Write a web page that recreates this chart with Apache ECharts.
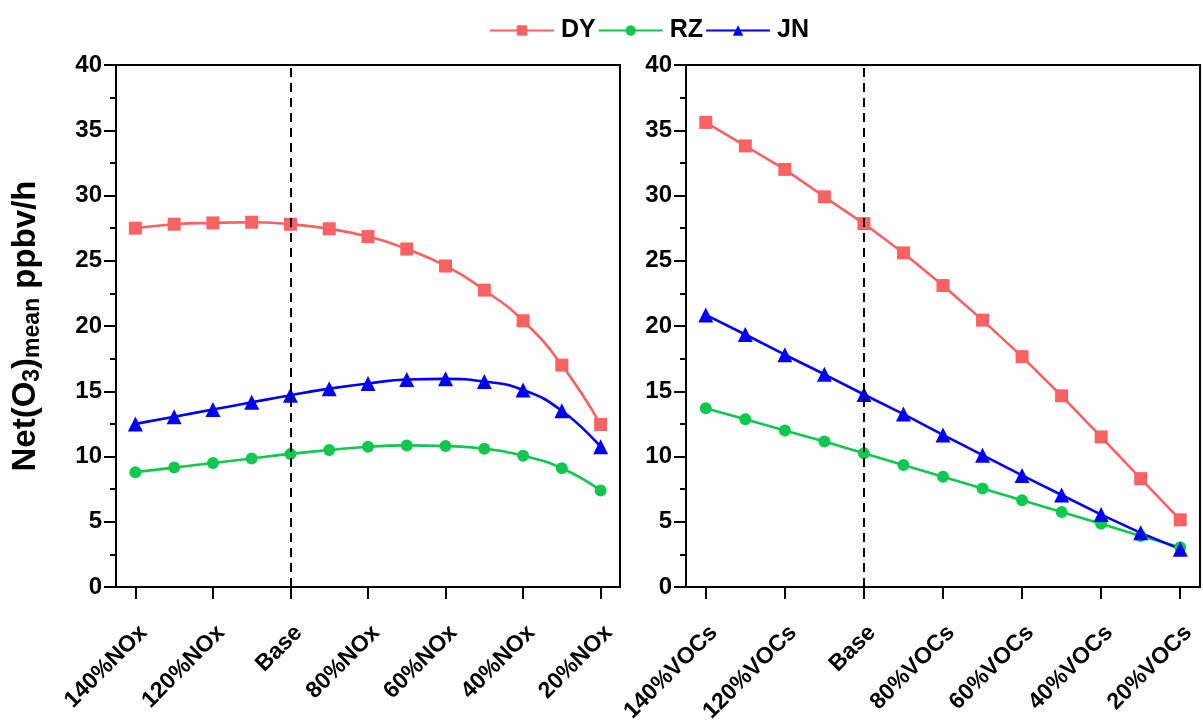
<!DOCTYPE html>
<html>
<head>
<meta charset="utf-8">
<script src="https://cdn.jsdelivr.net/npm/echarts@6/dist/echarts.min.js"></script>
<style>
    html, body { margin: 0; padding: 0; background: #fff; }
    #main { width: 1203px; height: 722px; }
</style>
</head>
<body>
<div id="main"></div>
<script>
    // categories
    var noxCategories = ['140%NOx', '130%NOx', '120%NOx', '110%NOx', 'Base', '90%NOx', '80%NOx',
        '70%NOx', '60%NOx', '50%NOx', '40%NOx', '30%NOx', '20%NOx'];
    var vocCategories = ['140%VOCs', '130%VOCs', '120%VOCs', '110%VOCs', 'Base', '90%VOCs', '80%VOCs',
        '70%VOCs', '60%VOCs', '50%VOCs', '40%VOCs', '30%VOCs', '20%VOCs'];

    // NOx scenarios (left panel)
    var noxDY = [27.5, 27.8, 27.9, 27.95, 27.8, 27.45, 26.85, 25.9, 24.6, 22.75, 20.4, 17.0, 12.45];
    var noxRZ = [8.8, 9.15, 9.5, 9.85, 10.2, 10.5, 10.75, 10.85, 10.8, 10.6, 10.05, 9.1, 7.4];
    var noxJN = [12.5, 13.05, 13.6, 14.15, 14.7, 15.2, 15.6, 15.9, 15.95, 15.75, 15.1, 13.5, 10.75];

    // VOCs scenarios (right panel)
    var vocDY = [35.6, 33.8, 32.0, 29.9, 27.85, 25.6, 23.1, 20.45, 17.65, 14.65, 11.5, 8.3, 5.15];
    var vocRZ = [13.7, 12.85, 12.0, 11.15, 10.25, 9.35, 8.45, 7.55, 6.65, 5.75, 4.85, 3.9, 3.05];
    var vocJN = [20.85, 19.35, 17.8, 16.3, 14.75, 13.25, 11.65, 10.1, 8.55, 7.05, 5.55, 4.15, 2.9];

    var yTicks = [0, 5, 10, 15, 20, 25, 30, 35, 40];

    var colors = { DY: '#F86262', RZ: '#10C850', JN: '#0000F5' };
    var font = 'Liberation Sans, Arial, sans-serif';

    function makeSeries(name, data, idx, symbol, size, smooth) {
        return {
            name: name,
            type: 'line',
            xAxisIndex: idx,
            yAxisIndex: idx,
            data: data,
            smooth: smooth,
            symbol: symbol,
            symbolSize: size,
            showAllSymbol: true,
            lineStyle: { color: colors[name], width: 2.6 },
            itemStyle: { color: colors[name] },
            z: 3
        };
    }

    function baseLine() {
        return {
            silent: true,
            symbol: ['none', 'none'],
            label: { show: false },
            lineStyle: { color: '#000', type: [9, 6], width: 2 },
            data: [{ xAxis: 'Base' }]
        };
    }

    function xAxis(idx, cats) {
        return {
            type: 'category',
            gridIndex: idx,
            data: cats,
            boundaryGap: true,
            axisLine: { lineStyle: { color: '#000', width: 2 } },
            axisTick: { show: true, alignWithLabel: true, interval: 1, length: 12, lineStyle: { color: '#000', width: 2 } },
            axisLabel: {
                interval: 1, rotate: 45, margin: 34, align: 'right', verticalAlign: 'top',
                color: '#000', fontSize: 23, fontWeight: 'bold', fontFamily: font
            }
        };
    }

    function yAxis(idx, withName) {
        var ax = {
            type: 'value',
            gridIndex: idx,
            min: yTicks[0],
            max: yTicks[yTicks.length - 1],
            interval: yTicks[1] - yTicks[0],
            axisLine: { show: true, lineStyle: { color: '#000', width: 2 } },
            axisTick: { show: true, length: 12, lineStyle: { color: '#000', width: 2 } },
            minorTick: { show: true, splitNumber: 2, length: 6, lineStyle: { color: '#000', width: 2 } },
            splitLine: { show: false },
            axisLabel: { margin: 14, color: '#000', fontSize: 24, fontWeight: 'bold', fontFamily: font }
        };
        if (withName) {
            ax.name = '{a|Net(O}{s|3}{a|)}{s|mean}{a| ppbv/h}';
            ax.nameLocation = 'middle';
            ax.nameGap = 72;
            ax.nameTextStyle = {
                rich: {
                    a: { fontSize: 33, fontWeight: 'bold', color: '#000', fontFamily: font },
                    s: { fontSize: 23, fontWeight: 'bold', color: '#000', fontFamily: font, verticalAlign: 'bottom', padding: [13, 0, 0, 0] }
                }
            };
        }
        return ax;
    }

    var chart = echarts.init(document.getElementById('main'));
    var leftDY = makeSeries('DY', noxDY, 0, 'rect', 13, true);
    leftDY.markLine = baseLine();
    var rightDY = makeSeries('DY', vocDY, 1, 'rect', 13, false);
    rightDY.markLine = baseLine();

    var option = {
        animation: false,
        backgroundColor: '#fff',
        legend: {
            data: ['DY', 'RZ', 'JN'],
            left: 484,
            top: 13,
            itemWidth: 64,
            itemHeight: 13,
            itemGap: 2,
            textStyle: { color: '#000', fontSize: 25, fontWeight: 'bold', fontFamily: font, padding: [0, 0, 0, 2] }
        },
        grid: [
            { left: 116, top: 65, width: 504, height: 522, show: true, borderColor: '#000', borderWidth: 2, outerBoundsMode: 'none' },
            { left: 686, top: 65, width: 514, height: 522, show: true, borderColor: '#000', borderWidth: 2, outerBoundsMode: 'none' }
        ],
        xAxis: [xAxis(0, noxCategories), xAxis(1, vocCategories)],
        yAxis: [yAxis(0, true), yAxis(1, false)],
        series: [
            leftDY,
            makeSeries('RZ', noxRZ, 0, 'circle', 12, true),
            makeSeries('JN', noxJN, 0, 'triangle', 15, true),
            rightDY,
            makeSeries('RZ', vocRZ, 1, 'circle', 12, false),
            makeSeries('JN', vocJN, 1, 'triangle', 15, false)
        ]
    };
    chart.setOption(option);
    window.addEventListener('resize', function () {
        chart.resize();
    });
</script>
</body>
</html>
